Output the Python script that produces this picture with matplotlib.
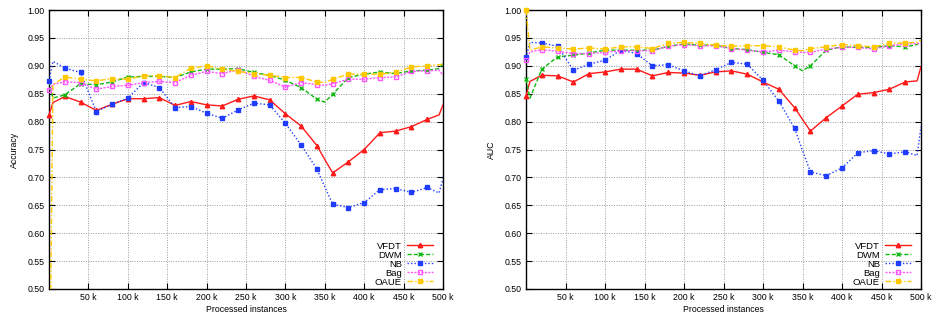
import matplotlib
matplotlib.use("Agg")
import matplotlib.pyplot as plt
from matplotlib.ticker import FixedLocator, FuncFormatter

plt.rcParams['font.family'] = ['Liberation Sans', 'DejaVu Sans']

# Processed instances (thousands)
x_k = [0, 5, 20, 40, 60, 80, 100, 120, 140, 160, 180, 200, 220, 240, 260, 280,
       300, 320, 340, 350, 360, 380, 400, 420, 440, 460, 480, 495, 500]

# ---- Accuracy ----
acc_vfdt = [0.812, 0.834, 0.845, 0.835, 0.820, 0.831, 0.841, 0.841, 0.843, 0.829, 0.836, 0.830, 0.828, 0.840, 0.846, 0.839,
            0.814, 0.792, 0.757, 0.732, 0.708, 0.728, 0.750, 0.780, 0.783, 0.791, 0.804, 0.812, 0.830]
acc_dwm = [0.873, 0.842, 0.848, 0.868, 0.866, 0.871, 0.880, 0.881, 0.881, 0.879, 0.889, 0.894, 0.894, 0.895, 0.888, 0.883,
           0.874, 0.861, 0.840, 0.835, 0.849, 0.879, 0.885, 0.889, 0.886, 0.891, 0.892, 0.895, 0.904]
acc_nb = [0.873, 0.908, 0.896, 0.888, 0.818, 0.831, 0.842, 0.870, 0.861, 0.825, 0.827, 0.815, 0.806, 0.821, 0.833, 0.830,
          0.797, 0.758, 0.715, 0.683, 0.652, 0.646, 0.655, 0.678, 0.680, 0.673, 0.682, 0.672, 0.698]
acc_bag = [0.857, 0.867, 0.871, 0.870, 0.858, 0.863, 0.865, 0.870, 0.872, 0.870, 0.883, 0.890, 0.886, 0.893, 0.881, 0.874,
           0.862, 0.870, 0.866, 0.865, 0.868, 0.876, 0.876, 0.879, 0.880, 0.890, 0.891, 0.892, 0.883]
acc_oaue = [0.200, 0.866, 0.880, 0.876, 0.873, 0.877, 0.876, 0.882, 0.882, 0.879, 0.896, 0.900, 0.894, 0.890, 0.886, 0.883,
            0.879, 0.879, 0.871, 0.870, 0.876, 0.885, 0.885, 0.885, 0.888, 0.898, 0.900, 0.902, 0.903]

# ---- AUC ----
auc_vfdt = [0.846, 0.872, 0.883, 0.882, 0.871, 0.886, 0.889, 0.894, 0.894, 0.882, 0.888, 0.887, 0.883, 0.889, 0.891, 0.885,
            0.871, 0.858, 0.825, 0.804, 0.783, 0.807, 0.828, 0.849, 0.852, 0.858, 0.871, 0.873, 0.898]
auc_dwm = [0.876, 0.842, 0.894, 0.916, 0.919, 0.923, 0.928, 0.928, 0.928, 0.928, 0.935, 0.939, 0.937, 0.937, 0.931, 0.929,
           0.924, 0.920, 0.900, 0.891, 0.900, 0.928, 0.934, 0.933, 0.933, 0.936, 0.934, 0.938, 0.946]
auc_nb = [0.915, 0.942, 0.941, 0.935, 0.892, 0.903, 0.910, 0.928, 0.922, 0.900, 0.902, 0.891, 0.882, 0.893, 0.906, 0.903,
          0.874, 0.837, 0.788, 0.748, 0.710, 0.703, 0.717, 0.744, 0.748, 0.742, 0.746, 0.739, 0.791]
auc_bag = [0.910, 0.925, 0.929, 0.926, 0.922, 0.922, 0.924, 0.927, 0.927, 0.927, 0.935, 0.938, 0.936, 0.936, 0.931, 0.928,
           0.925, 0.928, 0.925, 0.924, 0.924, 0.930, 0.933, 0.933, 0.930, 0.936, 0.939, 0.940, 0.940]
auc_oaue = [1.000, 0.928, 0.934, 0.932, 0.930, 0.932, 0.930, 0.934, 0.934, 0.931, 0.940, 0.942, 0.940, 0.937, 0.935, 0.936,
            0.936, 0.934, 0.928, 0.927, 0.931, 0.934, 0.938, 0.936, 0.934, 0.940, 0.941, 0.942, 0.946]

names = ["VFDT", "DWM", "NB", "Bag", "OAUE"]
colors = ["#ff1a1a", "#14b814", "#1f3cff", "#ff55ff", "#ffc800"]
styles = ["-", (0, (3, 1.5)), (0, (1, 1.5)), (0, (1.5, 1)), (0, (4, 1.5, 1, 1.5))]
markers = ["^", "x", "s", "s", "s"]
mfcs = [None, None, None, "none", None]

x_ticks = [50, 100, 150, 200, 250, 300, 350, 400, 450, 500]
y_ticks = [0.50, 0.55, 0.60, 0.65, 0.70, 0.75, 0.80, 0.85, 0.90, 0.95, 1.00]

fig = plt.figure(figsize=(9.32, 3.23), dpi=100)
ax1 = fig.add_axes([49 / 932, 34 / 323, 394 / 932, 279 / 323])
ax2 = fig.add_axes([526 / 932, 34 / 323, 395 / 932, 279 / 323])

fs = 6.3
ms = 3.2
mark_idx = [i for i, v in enumerate(x_k) if v == 0 or (v % 20 == 0 and 20 <= v <= 480)]


def draw(ax, series, ylabel):
    handles = []
    for name, ys, c, ls, m, mfc in zip(names, series, colors, styles, markers, mfcs):
        ax.plot(x_k, ys, color=c, ls=ls, lw=1.0, zorder=3)
        mx = [x_k[i] for i in mark_idx if 0.5 <= ys[i] <= 1.0]
        my = [ys[i] for i in mark_idx if 0.5 <= ys[i] <= 1.0]
        kw = dict(marker=m, ms=ms, ls="none", color=c, zorder=4, clip_on=False, mew=1.0)
        if mfc is not None:
            kw["mfc"] = mfc
        ax.plot(mx, my, **kw)
        h, = ax.plot([], [], color=c, ls=ls, lw=1.0, marker=m, ms=ms,
                     mfc=(mfc if mfc is not None else c), mew=1.0, label=name)
        handles.append(h)
    ax.set_xlim(0, 500)
    ax.set_ylim(0.5, 1.0)
    ax.xaxis.set_major_locator(FixedLocator(x_ticks))
    ax.xaxis.set_major_formatter(FuncFormatter(lambda v, p: f"{int(v)} k"))
    ax.yaxis.set_major_locator(FixedLocator(y_ticks))
    ax.yaxis.set_major_formatter(FuncFormatter(lambda v, p: f"{v:.2f}"))
    ax.tick_params(direction="in", length=4, width=0.8, top=True, right=True,
                   labelsize=fs, pad=3)
    ax.grid(True, color="#9a9a9a", ls=(0, (1, 1.5)), lw=0.7)
    for s in ax.spines.values():
        s.set_linewidth(1.0)
    ax.set_xlabel("Processed instances", fontsize=fs, labelpad=2)
    ax.set_ylabel(ylabel, fontsize=fs, labelpad=6)
    leg = ax.legend(handles=handles, loc="lower right", frameon=False, markerfirst=False,
                    fontsize=6.8, handlelength=2.65, labelspacing=0.0, handletextpad=0.6,
                    borderaxespad=0.0, numpoints=1, bbox_to_anchor=(0.983, -0.005))
    for t in leg.get_texts():
        t.set_ha("right")


draw(ax1, [acc_vfdt, acc_dwm, acc_nb, acc_bag, acc_oaue], "Accuracy")
draw(ax2, [auc_vfdt, auc_dwm, auc_nb, auc_bag, auc_oaue], "AUC")

fig.savefig("out.png", dpi=100)
